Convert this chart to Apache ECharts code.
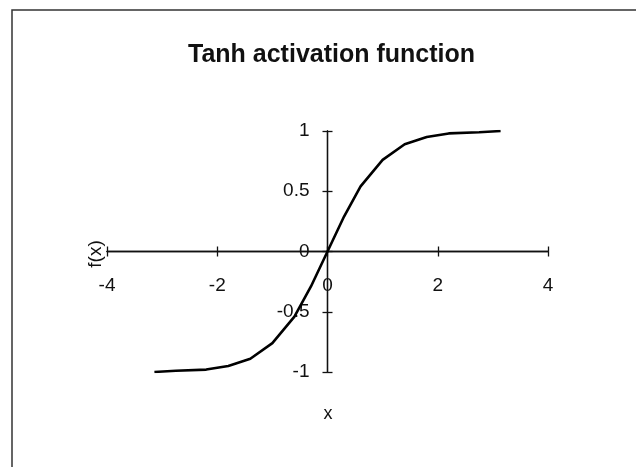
<!DOCTYPE html>
<html>
<head>
<meta charset="utf-8">
<script src="https://cdn.jsdelivr.net/npm/echarts@6/dist/echarts.min.js"></script>
<style>
  html, body { margin: 0; padding: 0; background: #fff; }
  #chart { width: 636px; height: 467px; }
</style>
</head>
<body>
<div id="chart"></div>
<script>
// Sampled points of the tanh curve, -pi .. pi
const xValues = [-3.14, -2.75, -2.2, -1.8, -1.4, -1.0, -0.6, -0.3, 0, 0.3, 0.6, 1.0, 1.4, 1.8, 2.2, 2.75, 3.14];
const yValues = [-1.00, -0.99, -0.98, -0.95, -0.89, -0.76, -0.54, -0.29, 0, 0.29, 0.54, 0.76, 0.89, 0.95, 0.98, 0.99, 1.00];
const xTicks = [-4, -2, 0, 2, 4];
const yTicks = [-1, -0.5, 0, 0.5, 1];

const titleText = 'Tanh activation function';
const xName = 'x';
const yName = 'f(x)';

const FONT = '"Liberation Sans", Arial, sans-serif';
const INK = '#111';

const points = xValues.map((x, i) => [x, yValues[i]]);

// Plot rectangle
const GRID = { left: 107, top: 131, width: 441, height: 241 };
const xMin = xTicks[0], xMax = xTicks[xTicks.length - 1];
const yMin = yTicks[0], yMax = yTicks[yTicks.length - 1];

// Axes cross at the origin: shift each axis (line, ticks and labels together)
// from the grid edge to the zero of the other axis.
const xAxisShift = -GRID.height * (yMax - 0) / (yMax - yMin);
const yAxisShift = -GRID.width * (0 - xMin) / (xMax - xMin);

const chart = echarts.init(document.getElementById('chart'), null, { renderer: 'canvas' });

// The visible axis draws line, labels and outward tick halves;
// a twin axis on the opposite side adds the other half of each tick.
function xAxisBase(extra) {
  return Object.assign({
    type: 'value',
    min: xMin,
    max: xMax,
    interval: 2,
    offset: xAxisShift,
    splitLine: { show: false },
    axisLine: { show: true, onZero: false, lineStyle: { color: INK, width: 1.3 } },
    axisTick: { show: true, length: 5, lineStyle: { color: INK, width: 1.3 } }
  }, extra);
}
function yAxisBase(extra) {
  return Object.assign({
    type: 'value',
    min: yMin,
    max: yMax,
    interval: 0.5,
    offset: yAxisShift,
    splitLine: { show: false },
    axisLine: { show: true, onZero: false, lineStyle: { color: INK, width: 1.3 } },
    axisTick: { show: true, length: 5, lineStyle: { color: INK, width: 1.3 } }
  }, extra);
}

chart.setOption({
  animation: false,
  backgroundColor: '#fff',
  title: {
    text: titleText,
    left: 183,
    top: 38,
    textStyle: { fontFamily: FONT, fontSize: 25, fontWeight: 'bold', color: INK }
  },
  grid: Object.assign({ containLabel: false }, GRID),
  xAxis: [
    xAxisBase({
      position: 'bottom',
      axisLabel: { show: true, margin: 25, fontFamily: FONT, fontSize: 19, color: INK, formatter: v => String(v) }
    }),
    xAxisBase({ position: 'top', axisLabel: { show: false } })
  ],
  yAxis: [
    yAxisBase({
      position: 'left',
      axisLabel: { show: true, margin: 18, fontFamily: FONT, fontSize: 19, color: INK, formatter: v => String(v) }
    }),
    yAxisBase({ position: 'right', axisLabel: { show: false } })
  ],
  series: [{
    type: 'line',
    data: points,
    xAxisIndex: 0,
    yAxisIndex: 0,
    showSymbol: false,
    smooth: false,
    lineStyle: { color: '#000', width: 2.6 },
    z: 5
  }],
  graphic: [
    {
      type: 'polyline',
      shape: { points: [[12, 480], [12, 10], [650, 10]] },
      style: { stroke: '#333', lineWidth: 1.5, fill: null }
    },
    {
      type: 'text',
      x: 96, y: 254,
      rotation: Math.PI / 2,
      style: { text: yName, font: '19px ' + FONT, fill: INK, align: 'center', verticalAlign: 'middle' }
    },
    {
      type: 'text',
      x: 328, y: 414,
      style: { text: xName, font: '18px ' + FONT, fill: INK, align: 'center', verticalAlign: 'middle' }
    }
  ]
});
</script>
</body>
</html>
